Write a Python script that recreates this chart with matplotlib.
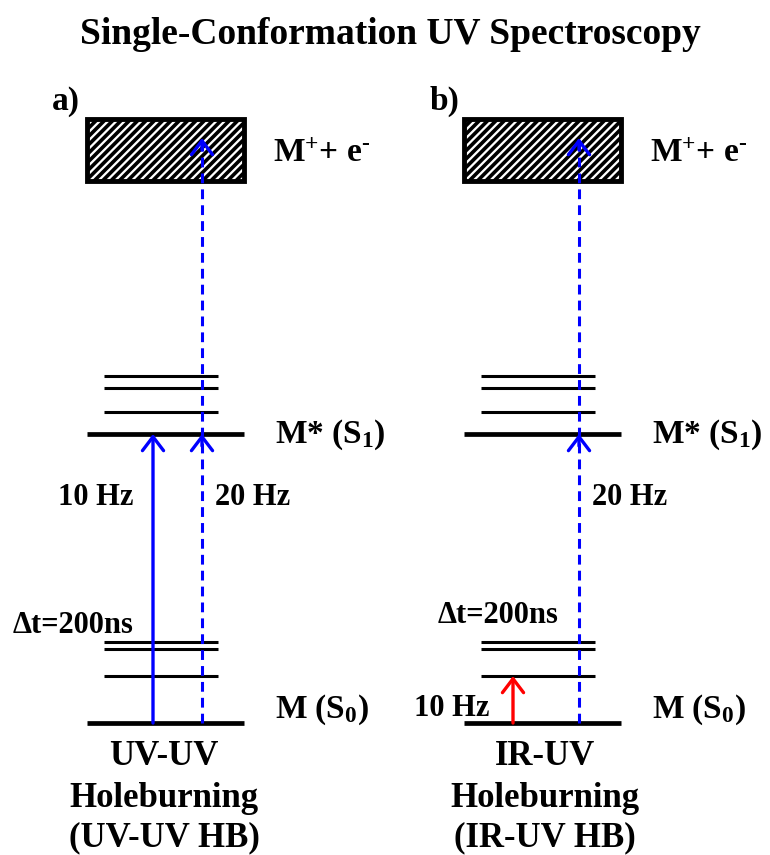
import matplotlib
matplotlib.use("Agg")
import matplotlib.pyplot as plt
from matplotlib.patches import Rectangle

# Fonts: bold Times-like serif everywhere
plt.rcParams["font.family"] = ["Liberation Serif", "DejaVu Serif"]
plt.rcParams["font.weight"] = "bold"
plt.rcParams["mathtext.fontset"] = "custom"
plt.rcParams["mathtext.rm"] = "Liberation Serif:bold"
plt.rcParams["mathtext.it"] = "Liberation Serif:bold"
plt.rcParams["mathtext.bf"] = "Liberation Serif:bold"
plt.rcParams["mathtext.default"] = "rm"
plt.rcParams["hatch.linewidth"] = 2.6

# Energy levels (arbitrary units, ground state = 0)
s0_levels = [0, 47, 74, 81]          # M (S0) origin + vibrational levels
s1_levels = [289, 311, 335, 347]     # M* (S1) origin + vibrational levels
ion_band = (542, 604)                # M+ + e- continuum

panel_tags = ["a)", "b)"]
panel_methods = [["UV-UV", "Holeburning", "(UV-UV HB)"],
                 ["IR-UV", "Holeburning", "(IR-UV HB)"]]
# pump transition per panel: (start level, end level, colour, label)
panel_pump = [(s0_levels[0], s1_levels[0], "#0000ff", "10 Hz"),
              (s0_levels[0], s0_levels[1], "#ff0000", "10 Hz")]
probe_label = "20 Hz"
delay_label = "\u0394t=200ns"

# Layout (axis units = pixels)
panel_x = [87, 464]
thick_w = 157
thin_off, thin_w = 17, 114
pump_off = [66, 49]
probe_off = 115
delay_pos = [(13, 90), (438, 100)]
pump_label_pos = [(133, 218), (490, 7)]

fig = plt.figure(figsize=(7.7, 8.55), dpi=100)
ax = fig.add_axes([0, 0, 1, 1])
ax.set_xlim(0, 770)
ax.set_ylim(-132, 723)
ax.axis("off")

ax.text(390, 688, "Single-Conformation UV Spectroscopy", ha="center",
        va="center", fontsize=27, fontweight="bold")


def arrow_head(x, y0, y1, color):
    ax.annotate("", xy=(x, y1), xytext=(x, y0),
                arrowprops=dict(arrowstyle="->,head_length=0.5,head_width=0.38",
                                color=color, lw=2.4, shrinkA=0, shrinkB=0,
                                mutation_scale=20))


for i, x0 in enumerate(panel_x):
    # ionisation continuum
    ax.add_patch(Rectangle((x0, ion_band[0]), thick_w, ion_band[1] - ion_band[0],
                           facecolor="white", edgecolor="black", hatch="////",
                           lw=3.5, zorder=2))
    # levels
    for levels in (s0_levels, s1_levels):
        ax.plot([x0, x0 + thick_w], [levels[0]] * 2, color="black", lw=3.4,
                solid_capstyle="butt", zorder=2)
        for e in levels[1:]:
            ax.plot([x0 + thin_off, x0 + thin_off + thin_w], [e] * 2,
                    color="black", lw=2.2, solid_capstyle="butt", zorder=2)

    # pump arrow
    start, end, color, lab = panel_pump[i]
    xp = x0 + pump_off[i]
    arrow_head(xp, start, end, color)

    # probe (dashed) arrow with heads at S1 and in the continuum
    xq = x0 + probe_off
    top = ion_band[1] - 19
    ax.plot([xq, xq], [s0_levels[0], top - 4], color="#0000ff", lw=2.2,
            ls=(0, (3.2, 2.0)), zorder=3)
    arrow_head(xq, s1_levels[0] - 12, s1_levels[0], "#0000ff")
    arrow_head(xq, top - 12, top, "#0000ff")

    # labels
    ax.text(x0 - 35 + i, 613, panel_tags[i], ha="left", va="baseline", fontsize=24)
    ax.text(x0 + 186, 561, r"M$^{+}$+ e$^{\text{-}}$", ha="left", va="baseline",
            fontsize=24)
    ax.text(x0 + 188, 280, "M* (S$_{1}$)", ha="left", va="baseline", fontsize=24)
    ax.text(x0 + 188, 5, "M (S$_{0}$)", ha="left", va="baseline", fontsize=24)
    ax.text(xq + 13, 218, probe_label, ha="left", va="baseline", fontsize=22)
    ax.text(*delay_pos[i], delay_label, ha="left", va="baseline", fontsize=22)
    ax.text(*pump_label_pos[i], lab, ha="right", va="baseline", fontsize=22)

    cx = x0 + [77, 81][i]
    for line, yb in zip(panel_methods[i], [-42, -84, -123]):
        ax.text(cx, yb, line, ha="center", va="baseline", fontsize=25)

fig.savefig("out.png", dpi=100)
